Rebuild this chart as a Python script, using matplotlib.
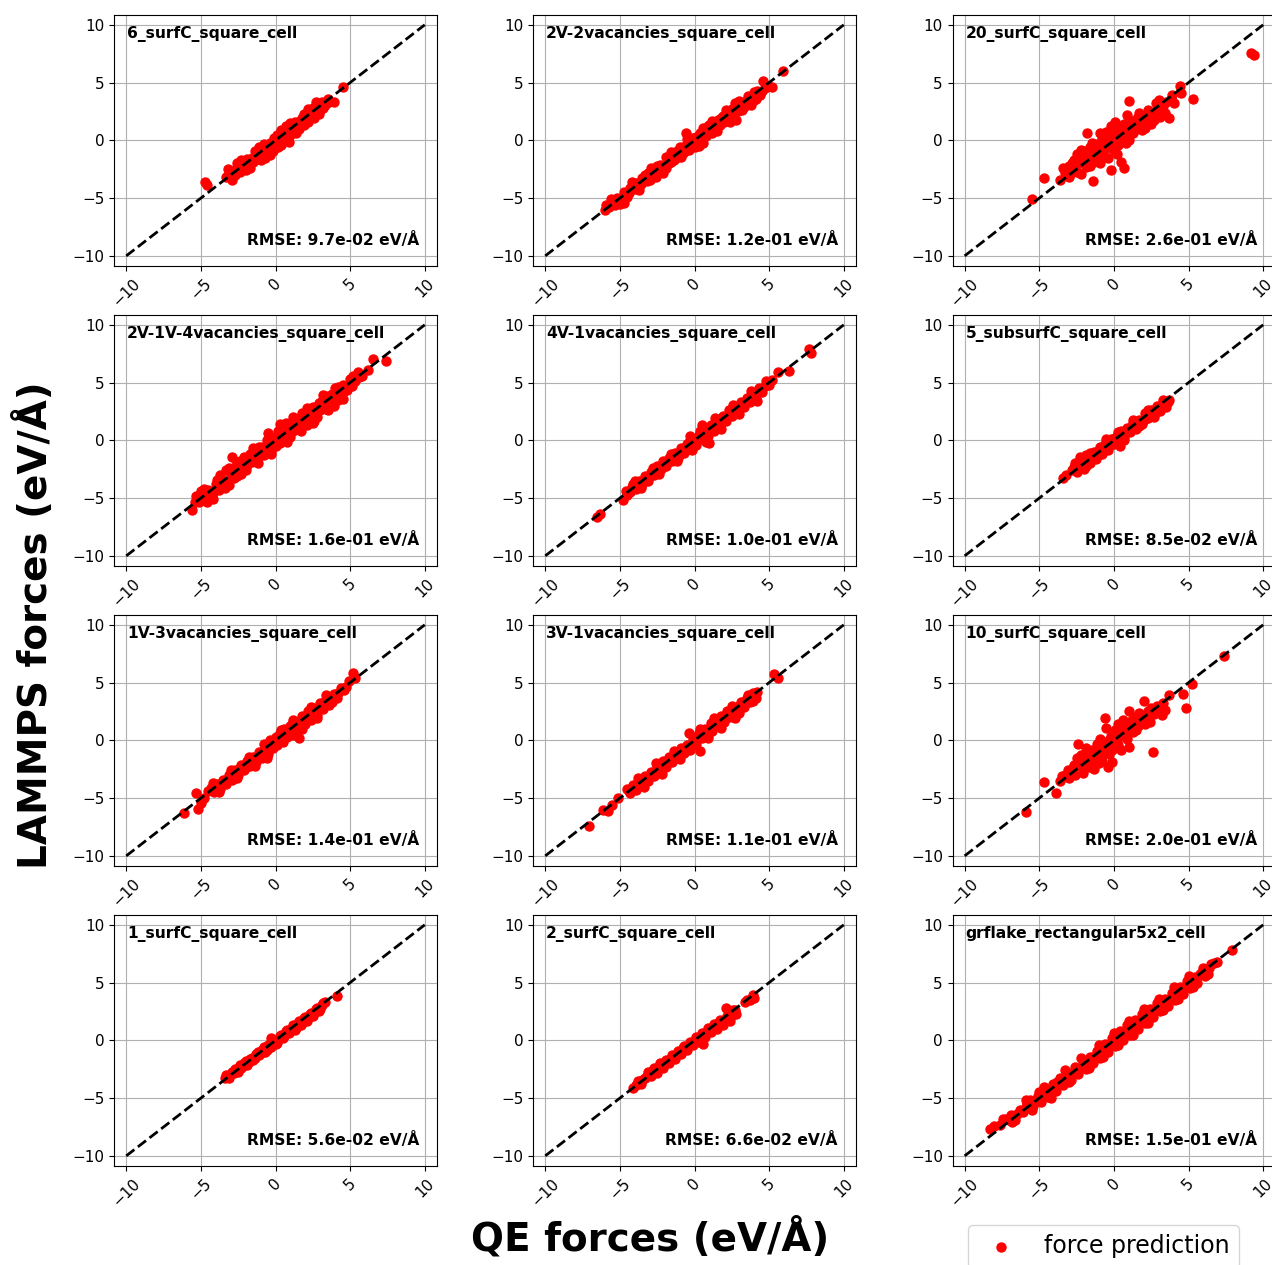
import matplotlib
matplotlib.use("Agg")
import matplotlib.pyplot as plt

# (QE force, LAMMPS force) pairs for each structure, in eV/A
surf6 = [(-4.7, -3.6), (-4.6, -3.9), (-3.3, -3.2), (-3.1, -2.8), (-3.0, -3.3), (-2.8, -2.6),
         (-2.7, -3.0), (-2.5, -2.3), (-2.4, -2.7), (-2.2, -1.9), (-2.1, -2.4), (-1.9, -1.6),
         (-1.8, -2.2), (-1.6, -1.5), (-1.5, -1.9), (-1.3, -1.1), (-1.2, -1.6), (-1.0, -0.8),
         (-0.9, -1.3), (-0.7, -0.5), (-0.6, -1.2), (-0.5, -0.7), (-0.4, -0.2), (-0.3, -0.9),
         (-0.1, 0.2), (0.0, -0.4), (0.2, 0.1), (0.3, -0.2), (0.5, 0.6), (0.6, 0.2), (0.8, 0.9),
         (0.9, 0.4), (1.1, 1.3), (1.2, 0.8), (1.4, 1.2), (1.5, 1.6), (1.7, 1.3), (1.8, 1.9),
         (2.0, 1.7), (2.1, 2.2), (2.3, 2.0), (2.4, 2.5), (2.6, 2.3), (2.7, 3.3), (2.8, 2.8),
         (3.0, 2.6), (3.3, 3.1), (3.6, 3.3), (3.9, 3.3), (4.5, 4.6),
         (-2.6, -2.0), (-2.0, -2.6), (-1.4, -0.9), (-1.0, -1.7), (-0.8, -0.3), (-0.4, -1.3),
         (-0.2, -0.9), (0.1, 0.5), (0.4, -0.4), (0.7, 1.2), (1.0, 0.5), (1.3, 1.6), (1.6, 1.0),
         (1.9, 2.3), (2.2, 1.6), (2.5, 2.8), (2.9, 2.3), (3.2, 2.8), (3.5, 3.6), (-3.2, -2.5),
         (-2.9, -3.4), (0.9, -0.1),
         (-2.3, -1.7), (-1.7, -2.4), (-1.1, -0.6), (-0.7, -1.5), (0.2, -0.6), (0.4, 0.9),
         (1.0, 1.5), (1.4, 0.6), (1.9, 1.3), (2.2, 2.7), (2.6, 1.9), (3.1, 3.3)]

vac_2v2 = [(-6.0, -6.0), (-5.7, -5.8), (-5.5, -5.4), (-5.2, -5.0), (-4.9, -5.1), (-4.7, -5.4),
           (-4.7, -4.5), (-4.4, -4.6), (-4.3, -4.1), (-4.0, -4.2), (-3.9, -3.7), (-3.6, -3.8),
           (-3.5, -3.3), (-3.2, -3.5), (-3.1, -2.8), (-2.8, -3.0), (-2.7, -2.5), (-2.4, -2.6),
           (-2.3, -2.1), (-2.1, -2.8), (-2.0, -2.2), (-1.8, -1.6), (-1.7, -2.0), (-1.5, -1.2),
           (-1.4, -1.7), (-1.2, -0.9), (-1.1, -1.4), (-0.9, -0.7), (-0.8, -1.1), (-0.6, 0.6),
           (-0.6, -0.4), (-0.4, -0.8), (-0.3, 0.0), (-0.1, -0.4), (0.1, 0.3), (0.2, -0.3),
           (0.4, 0.6), (0.5, 0.0), (0.7, 0.9), (0.8, 0.4), (1.0, 1.3), (1.1, 0.7), (1.3, 1.5),
           (1.4, 1.0), (1.6, 1.8), (1.7, 1.3), (1.9, 2.1), (2.0, 1.6), (2.2, 2.4), (2.3, 1.9),
           (2.5, 2.7), (2.6, 2.2), (2.8, 1.8), (2.8, 3.0), (2.9, 2.5), (3.1, 3.2), (3.3, 2.9),
           (3.5, 3.5), (3.7, 3.2), (3.9, 3.9), (4.1, 3.6), (4.3, 4.1), (4.4, 3.9), (4.6, 5.1),
           (4.7, 4.5), (5.2, 4.6), (5.9, 6.0),
           (-5.9, -5.6), (-5.3, -5.6), (-4.5, -4.9), (-4.1, -3.8), (-3.8, -4.1), (-3.3, -3.0),
           (-3.0, -3.4), (-2.5, -2.2), (-2.2, -2.5), (-1.9, -1.4), (-1.6, -1.9), (-1.3, -1.5),
           (-1.0, -0.6), (-0.7, -1.0), (-0.2, 0.2), (0.0, -0.6), (0.3, 0.1), (0.6, -0.2),
           (0.9, 1.2), (1.2, 0.6), (1.5, 1.4), (1.8, 1.9), (2.1, 1.8), (2.4, 2.4), (2.7, 3.2),
           (3.0, 2.8), (3.4, 3.1), (3.6, 3.8), (4.0, 3.5), (4.2, 4.3), (4.5, 4.3), (4.9, 4.7),
           (-5.6, -5.1), (-5.0, -5.5), (-4.2, -3.6), (-3.7, -4.3), (-2.9, -2.4), (-2.6, -3.2),
           (-1.9, -2.4), (-1.6, -1.0), (-0.9, -1.4), (-0.5, 0.1), (0.3, -0.5), (0.6, 1.1),
           (1.2, 1.7), (1.5, 0.8), (2.1, 2.6), (2.4, 1.6), (3.0, 3.4), (3.2, 2.6), (3.8, 3.1),
           (4.0, 4.2)]

surf20 = [(-5.5, -5.1), (-4.7, -3.3), (-3.6, -3.4), (-3.4, -2.4), (-3.2, -3.0), (-3.0, -2.2),
          (-2.9, -2.8), (-2.7, -1.7), (-2.6, -2.5), (-2.5, -1.2), (-2.4, -2.0), (-2.2, -2.9),
          (-2.1, -1.4), (-2.0, -0.9), (-1.9, -2.3), (-1.8, 0.6), (-1.7, -1.6), (-1.6, -0.6),
          (-1.5, -1.1), (-1.4, -3.5), (-1.3, -1.9), (-1.2, -0.3), (-1.1, -1.3), (-1.0, -0.8),
          (-0.9, -2.0), (-0.8, 0.2), (-0.7, -1.0), (-0.6, -0.4), (-0.5, 0.7), (-0.4, -1.5),
          (-0.3, -0.2), (-0.2, -2.6), (-0.2, 1.2), (-0.1, 0.3), (0.0, -0.8), (0.1, 1.6),
          (0.2, 0.5), (0.3, -0.4), (0.4, 1.0), (0.5, -1.9), (0.6, 0.2), (0.7, -2.4), (0.7, 1.4),
          (0.8, 0.7), (0.9, 2.2), (1.0, 3.4), (1.0, 0.0), (1.1, 1.2), (1.3, 0.6), (1.4, 1.8),
          (1.5, 1.0), (1.7, 2.4), (1.8, 1.3), (1.9, 0.9), (2.0, 2.0), (2.2, 1.6), (2.3, 2.6),
          (2.5, 1.4), (2.6, 2.2), (2.8, 3.2), (2.9, 2.6), (3.1, 2.0), (3.3, 3.0), (3.5, 3.3),
          (3.7, 1.9), (3.8, 3.6), (4.0, 3.2), (4.4, 4.7), (4.5, 4.1), (5.3, 3.6), (9.2, 7.6),
          (9.4, 7.4),
          (-3.3, -2.8), (-3.0, -3.2), (-2.8, -2.0), (-2.5, -2.7), (-2.3, -1.6), (-2.2, -0.8),
          (-1.9, -1.3), (-1.6, -2.2), (-1.5, -0.2), (-1.3, -1.5), (-1.0, -1.6), (-0.9, 0.6),
          (-0.7, -0.3), (-0.6, -1.4), (-0.4, 0.3), (-0.2, -0.7), (0.0, 0.8), (0.2, -1.2),
          (0.3, 1.3), (0.5, 0.5), (0.8, -0.2), (1.2, 1.6), (1.6, 2.0), (2.1, 1.1), (2.4, 2.3),
          (2.7, 1.8), (3.0, 3.5), (3.4, 2.4), (3.9, 3.9)]

vac_2v1v4 = [(-5.6, -6.0), (-5.3, -4.8), (-5.1, -5.3), (-4.9, -4.6), (-4.7, -5.0), (-4.5, -4.3),
             (-4.2, -5.1), (-4.2, -4.6), (-4.0, -3.8), (-3.8, -4.3), (-3.6, -3.4), (-3.5, -3.9),
             (-3.3, -2.6), (-3.2, -3.6), (-3.0, -3.0), (-2.9, -1.4), (-2.8, -3.3), (-2.7, -2.3),
             (-2.5, -2.8), (-2.4, -1.8), (-2.2, -2.4), (-2.1, -1.4), (-1.9, -2.1), (-1.8, -1.5),
             (-1.6, -1.9), (-1.5, -1.1), (-1.3, -1.6), (-1.2, -0.8), (-1.0, -1.3), (-0.9, -0.6),
             (-0.7, -1.0), (-0.5, 0.6), (-0.5, -0.3), (-0.3, -0.9), (-0.2, 0.1), (0.0, -0.5),
             (0.1, 0.4), (0.3, 1.4), (0.3, -0.2), (0.5, 0.8), (0.6, 0.2), (0.8, 1.2), (0.9, 0.5),
             (1.1, 1.6), (1.2, 0.8), (1.4, 1.3), (1.6, 1.9), (1.7, 1.2), (1.9, 2.2), (2.0, 1.6),
             (2.2, 2.6), (2.3, 1.9), (2.5, 1.5), (2.5, 2.9), (2.7, 2.3), (2.9, 3.2), (3.0, 2.6),
             (3.2, 3.5), (3.3, 2.9), (3.5, 3.8), (3.6, 3.2), (3.8, 4.0), (3.9, 3.0), (4.1, 4.3),
             (4.3, 3.8), (4.5, 4.8), (4.8, 4.4), (5.0, 5.3), (5.3, 5.1), (5.5, 5.9), (5.8, 5.6),
             (6.2, 6.1), (6.5, 7.0), (7.4, 6.9),
             (-5.4, -5.3), (-4.8, -4.2), (-4.4, -4.9), (-3.9, -3.4), (-3.4, -4.1), (-3.1, -2.4),
             (-2.6, -3.1), (-2.3, -2.0), (-2.0, -2.6), (-1.7, -1.2), (-1.4, -1.8), (-1.1, -0.6),
             (-0.8, -1.3), (-0.4, 0.3), (-0.1, -0.4), (0.2, 0.8), (0.5, 0.1), (0.7, 1.5),
             (1.0, 0.3), (1.3, 1.8), (1.5, 1.0), (1.8, 2.4), (2.1, 1.3), (2.4, 2.5), (2.8, 2.0),
             (3.1, 3.4), (3.4, 2.7), (3.7, 3.5), (4.0, 4.5), (4.2, 3.5), (4.6, 4.3), (5.1, 4.7),
             (5.6, 5.5),
             (-5.0, -4.4), (-4.6, -5.3), (-3.7, -3.0), (-3.1, -3.9), (-2.6, -1.9), (-2.3, -2.9),
             (-1.5, -0.7), (-1.2, -2.0), (-0.6, 0.0), (-0.3, -1.2), (0.4, 1.1), (0.8, -0.1),
             (1.2, 2.0), (1.7, 0.8), (2.1, 2.8), (2.6, 1.7), (3.2, 3.9), (3.5, 2.6), (4.2, 4.6),
             (4.5, 3.6), (5.2, 5.6)]

vac_4v1 = [(-6.5, -6.6), (-6.3, -6.4), (-4.8, -5.2), (-4.6, -4.4), (-4.3, -4.5), (-4.1, -3.8),
           (-3.9, -4.2), (-3.7, -3.5), (-3.5, -3.8), (-3.3, -3.1), (-3.1, -3.5), (-2.9, -2.7),
           (-2.7, -3.0), (-2.5, -2.2), (-2.3, -2.6), (-2.1, -1.8), (-1.9, -2.2), (-1.7, -1.5),
           (-1.5, -1.8), (-1.3, -1.1), (-1.1, -1.5), (-0.9, -0.7), (-0.7, -1.1), (-0.5, -0.3),
           (-0.3, 0.4), (-0.3, -0.7), (-0.1, 0.0), (0.1, -0.4), (0.3, 0.5), (0.5, 1.3), (0.5, 0.1),
           (0.7, 0.9), (0.9, 0.4), (1.0, -0.2), (1.1, 1.3), (1.3, 0.8), (1.5, 1.7), (1.7, 1.2),
           (1.9, 2.1), (2.1, 1.7), (2.3, 2.6), (2.5, 2.1), (2.7, 2.9), (2.9, 2.5), (3.1, 3.3),
           (3.3, 2.9), (3.5, 3.7), (3.7, 3.3), (3.9, 4.1), (4.1, 3.7), (4.3, 4.5), (4.5, 4.2),
           (4.8, 5.1), (5.0, 4.8), (5.6, 5.9), (6.3, 6.0), (7.7, 7.9), (7.8, 7.6),
           (-4.5, -4.7), (-4.2, -4.0), (-3.8, -3.8), (-3.4, -3.5), (-3.0, -3.1), (-2.6, -2.6),
           (-2.2, -2.4), (-1.8, -1.9), (-1.4, -1.4), (-1.0, -1.2), (-0.6, -0.8), (-0.4, -0.1),
           (0.0, -0.3), (0.2, 0.2), (0.6, 0.6), (0.8, -0.1), (1.2, 1.0), (1.6, 1.4), (2.0, 1.9),
           (2.4, 2.4), (2.8, 2.7), (3.2, 3.1), (3.6, 3.5), (4.0, 3.9), (4.4, 4.3), (4.7, 4.7),
           (5.2, 5.2),
           (-4.0, -3.5), (-3.6, -4.1), (-2.8, -2.4), (-2.4, -2.9), (-1.6, -1.2), (-1.2, -1.8),
           (-0.2, -0.8), (0.4, 0.8), (1.4, 1.9), (1.8, 1.0), (2.6, 3.1), (3.0, 2.3), (3.8, 4.3),
           (4.2, 3.4)]

subsurf5 = [(-3.4, -3.3), (-2.7, -2.3), (-2.5, -2.7), (-2.3, -1.4), (-2.2, -2.0), (-2.0, -2.5),
            (-1.8, -1.6), (-1.6, -2.0), (-1.4, -1.2), (-1.2, -1.6), (-1.0, -0.8), (-0.8, -1.2),
            (-0.6, -0.3), (-0.4, -0.8), (-0.2, 0.1), (0.0, -0.3), (0.2, 0.4), (0.4, -0.5),
            (0.5, 0.8), (0.7, 0.3), (0.9, 1.1), (1.1, 0.7), (1.3, 1.5), (1.5, 1.0), (1.7, 1.8),
            (1.9, 1.4), (2.1, 2.4), (2.3, 1.9), (2.5, 2.6), (2.7, 2.2), (2.9, 3.0), (3.1, 2.5),
            (3.3, 3.3), (3.5, 2.9), (3.7, 3.5),
            (-3.2, -3.0), (-2.6, -2.0), (-2.4, -2.4), (-2.1, -2.3), (-1.9, -1.3), (-1.7, -1.8),
            (-1.5, -1.5), (-1.3, -1.0), (-1.1, -1.3), (-0.9, -0.6), (-0.7, -0.9), (-0.5, -0.5),
            (-0.3, -0.1), (-0.1, -0.3), (0.1, 0.2), (0.3, 0.0), (0.6, 0.5), (0.8, 0.8),
            (1.0, 0.9), (1.2, 1.2), (1.4, 1.3), (1.6, 1.5), (1.8, 1.7), (2.0, 1.8), (2.2, 2.1),
            (2.4, 2.2), (2.6, 2.4), (2.8, 2.7), (3.0, 2.7), (3.2, 3.0), (3.4, 3.1), (3.6, 3.3),
            (-2.8, -2.6), (-1.9, -2.2), (-1.6, -1.1), (-0.9, -1.2), (-0.5, 0.1), (0.3, 0.7),
            (0.7, 0.0), (1.3, 1.8), (1.7, 1.2), (2.3, 2.6), (2.7, 2.0), (3.3, 3.5)]

vac_1v3 = [(-6.1, -6.3), (-5.3, -4.6), (-5.2, -5.9), (-5.0, -5.4), (-4.8, -5.0), (-4.3, -4.1),
           (-4.1, -4.5), (-3.9, -3.8), (-3.7, -4.2), (-3.5, -3.4), (-3.3, -3.8), (-3.1, -3.0),
           (-2.9, -3.4), (-2.7, -2.6), (-2.5, -3.0), (-2.3, -2.1), (-2.1, -2.6), (-1.9, -1.8),
           (-1.7, -2.2), (-1.5, -1.4), (-1.3, -1.9), (-1.1, -1.0), (-0.9, -1.5), (-0.7, -0.6),
           (-0.5, -1.2), (-0.4, 0.0), (-0.2, -0.7), (0.0, 0.3), (0.1, -0.4), (0.3, 0.6),
           (0.5, -0.1), (0.6, 1.0), (0.8, 0.3), (1.0, 1.2), (1.2, 0.5), (1.4, 1.6), (1.6, 0.2),
           (1.6, 1.0), (1.8, 2.1), (2.0, 1.4), (2.2, 2.5), (2.4, 1.8), (2.6, 2.8), (2.8, 2.2),
           (3.0, 3.2), (3.2, 2.7), (3.4, 3.6), (3.6, 3.1), (3.9, 4.0), (4.1, 3.7), (4.4, 4.5),
           (4.7, 4.6), (4.9, 5.1), (5.2, 5.8), (5.3, 5.4),
           (-4.5, -4.4), (-4.0, -4.2), (-3.6, -3.7), (-3.2, -3.4), (-2.8, -3.0), (-2.4, -2.4),
           (-2.0, -2.3), (-1.6, -1.8), (-1.2, -1.5), (-0.8, -1.2), (-0.6, -0.9), (-0.3, -0.3),
           (0.2, 0.1), (0.4, 0.9), (0.7, 0.6), (0.9, 0.8), (1.1, 1.4), (1.3, 0.9), (1.5, 1.3),
           (1.7, 1.6), (1.9, 1.7), (2.1, 2.0), (2.3, 2.2), (2.5, 2.5), (2.7, 2.5), (2.9, 2.8),
           (3.1, 2.9), (3.3, 3.2), (3.5, 3.3), (3.7, 3.7), (4.2, 4.1), (4.6, 4.4),
           (-4.2, -3.7), (-3.8, -4.5), (-3.0, -2.6), (-2.6, -3.3), (-1.8, -1.4), (-1.4, -2.2),
           (-0.8, -0.3), (-0.6, -1.5), (0.4, 0.2), (1.2, 1.8), (1.8, 1.0), (2.4, 2.9),
           (2.8, 1.9), (3.4, 3.9), (3.8, 3.3)]

vac_3v1 = [(-7.1, -7.4), (-6.1, -6.0), (-5.8, -6.1), (-5.5, -5.6), (-5.1, -5.0), (-4.5, -4.2),
           (-4.3, -4.6), (-4.1, -3.9), (-3.9, -4.3), (-3.7, -3.5), (-3.5, -3.9), (-3.3, -3.1),
           (-3.1, -3.5), (-2.9, -2.7), (-2.7, -3.1), (-2.5, -2.3), (-2.3, -2.7), (-2.1, -1.8),
           (-1.9, -2.3), (-1.7, -1.4), (-1.5, -1.9), (-1.3, -1.1), (-1.1, -1.5), (-0.9, -0.7),
           (-0.7, -1.1), (-0.5, -0.4), (-0.4, 0.6), (-0.3, -0.8), (-0.1, 0.1), (0.1, -0.3),
           (0.3, 0.6), (0.4, -0.9), (0.5, 0.2), (0.7, 1.0), (0.9, 0.5), (1.1, 1.5), (1.2, 0.8),
           (1.4, 1.8), (1.6, 1.3), (1.8, 2.1), (2.0, 1.6), (2.2, 2.5), (2.4, 2.0), (2.6, 2.9),
           (2.7, 1.9), (2.9, 2.6), (3.1, 3.3), (3.3, 2.9), (3.5, 3.7), (3.7, 3.3), (3.9, 4.1),
           (4.1, 3.7), (4.2, 4.2), (5.3, 5.7), (5.6, 5.4),
           (-4.4, -4.4), (-4.0, -4.1), (-3.6, -3.7), (-3.2, -3.3), (-2.8, -2.9), (-2.4, -2.5),
           (-2.0, -2.1), (-1.8, -1.7), (-1.6, -1.6), (-1.2, -1.3), (-1.0, -1.0), (-0.8, -0.9),
           (-0.6, -0.7), (-0.2, -0.3), (0.0, 0.3), (0.2, 0.1), (0.6, 0.6), (0.8, 0.8), (1.0, 1.0),
           (1.3, 1.3), (1.5, 1.5), (1.7, 1.7), (1.9, 1.8), (2.1, 2.1), (2.3, 2.2), (2.5, 2.5),
           (2.8, 2.7), (3.0, 3.0), (3.2, 3.1), (3.4, 3.4), (3.6, 3.5), (3.8, 3.8), (4.0, 3.9),
           (-3.8, -3.3), (-3.4, -4.0), (-2.6, -2.0), (-2.2, -2.9), (-1.4, -0.9), (-1.0, -1.6),
           (0.4, 1.0), (0.9, 0.2), (1.3, 1.9), (1.8, 1.1), (2.5, 3.0), (3.0, 2.4), (3.6, 3.9),
           (3.9, 3.4)]

surf10 = [(-5.9, -6.2), (-4.7, -3.6), (-3.9, -4.6), (-3.6, -3.5), (-3.3, -3.0), (-3.0, -3.3),
          (-2.8, -2.5), (-2.6, -3.0), (-2.5, -1.5), (-2.4, -0.3), (-2.3, -2.2), (-2.1, -2.8),
          (-2.0, -1.6), (-1.8, -1.1), (-1.7, -2.3), (-1.5, -0.8), (-1.4, -1.6), (-1.3, -2.5),
          (-1.1, -0.3), (-1.0, -1.2), (-0.9, 0.1), (-0.8, -1.8), (-0.7, -0.7), (-0.6, 1.9),
          (-0.5, 1.1), (-0.5, -0.2), (-0.4, -2.3), (-0.3, -1.2), (-0.2, 0.4), (-0.1, -1.9),
          (0.0, -0.5), (0.1, 0.9), (0.2, -0.1), (0.3, 1.4), (0.4, 0.4), (0.5, -0.8), (0.6, 1.8),
          (0.7, 0.8), (0.9, 0.1), (1.0, -0.6), (1.0, 2.5), (1.1, 1.3), (1.3, 0.7), (1.4, 2.0),
          (1.6, 1.2), (1.7, 2.4), (1.9, 1.7), (2.0, 3.4), (2.2, 2.1), (2.4, 1.6), (2.5, 2.8),
          (2.6, -1.0), (2.7, 2.3), (2.9, 3.0), (3.0, 2.5), (3.3, 3.2), (3.4, 2.6), (3.7, 3.9),
          (4.6, 4.0), (4.8, 2.8), (5.2, 4.9), (7.4, 7.3),
          (-3.5, -3.1), (-3.1, -2.6), (-2.9, -3.0), (-2.7, -2.1), (-2.2, -1.3), (-2.0, -2.4),
          (-1.9, -0.7), (-1.6, -1.9), (-1.2, -0.9), (-1.0, -2.0), (-0.8, -0.3), (-0.6, -1.1),
          (-0.3, 0.0), (-0.1, -0.8), (0.1, 0.3), (0.3, -0.4), (0.5, 1.0), (0.8, 1.4), (0.9, 0.5),
          (1.2, 1.8), (1.5, 0.9), (1.8, 2.0), (2.1, 1.4), (2.3, 2.5), (2.8, 2.7), (3.1, 2.9),
          (3.2, 2.2)]

surf1 = [(-3.4, -3.3), (-3.2, -3.1), (-3.0, -2.9), (-2.8, -2.8), (-2.6, -2.5), (-2.4, -2.1),
         (-2.3, -2.4), (-2.1, -2.0), (-1.9, -2.1), (-1.7, -1.6), (-1.5, -1.7), (-1.3, -1.2),
         (-1.1, -1.3), (-0.9, -0.8), (-0.7, -1.0), (-0.5, -0.4), (-0.3, 0.2), (-0.3, -0.6),
         (-0.1, -0.1), (0.1, -0.2), (0.3, 0.4), (0.5, 0.2), (0.7, 0.8), (0.9, 0.6), (1.1, 1.1),
         (1.3, 0.9), (1.5, 1.5), (1.7, 1.3), (1.9, 1.9), (2.1, 1.7), (2.3, 2.3), (2.5, 2.1),
         (2.7, 2.7), (2.9, 2.5), (3.1, 3.1), (3.3, 3.3), (4.1, 3.8),
         (-3.3, -3.0), (-3.1, -3.3), (-2.9, -2.7), (-2.7, -2.5), (-2.5, -2.7), (-2.2, -2.2),
         (-2.0, -1.8), (-1.8, -1.9), (-1.6, -1.5), (-1.4, -1.5), (-1.2, -1.0), (-1.0, -1.1),
         (-0.8, -0.6), (-0.6, -0.8), (-0.4, -0.3), (-0.2, 0.0), (0.0, -0.3), (0.2, 0.1),
         (0.4, 0.5), (0.6, 0.4), (0.8, 0.9), (1.0, 0.8), (1.2, 1.3), (1.4, 1.1), (1.6, 1.7),
         (1.8, 1.5), (2.0, 2.0), (2.2, 1.9), (2.4, 2.4), (2.6, 2.4), (2.8, 2.8), (3.0, 2.7),
         (3.2, 3.2)]

surf2 = [(-4.1, -4.1), (-3.8, -3.5), (-3.6, -3.8), (-3.3, -3.3), (-3.1, -2.7), (-2.9, -3.1),
         (-2.7, -2.4), (-2.5, -2.8), (-2.3, -2.0), (-2.1, -2.4), (-1.9, -1.7), (-1.7, -2.0),
         (-1.5, -1.3), (-1.3, -1.6), (-1.1, -0.9), (-0.9, -1.2), (-0.7, -0.5), (-0.5, -0.8),
         (-0.3, -0.1), (-0.1, -0.4), (0.1, 0.3), (0.3, -0.1), (0.5, 0.6), (0.6, -0.3),
         (0.7, 0.3), (0.9, 1.1), (1.1, 0.7), (1.3, 1.4), (1.5, 1.0), (1.7, 1.8), (1.9, 1.3),
         (2.1, 2.8), (2.2, 2.1), (2.4, 1.7), (2.6, 2.6), (2.8, 2.3), (3.4, 3.3), (3.7, 3.5),
         (3.9, 3.9), (4.0, 3.7),
         (-3.9, -3.9), (-3.5, -3.4), (-3.2, -3.1), (-3.0, -2.9), (-2.8, -2.6), (-2.6, -2.6),
         (-2.4, -2.2), (-2.2, -2.2), (-2.0, -1.9), (-1.8, -1.8), (-1.6, -1.5), (-1.4, -1.4),
         (-1.2, -1.2), (-1.0, -1.0), (-0.8, -0.7), (-0.6, -0.6), (-0.4, -0.4), (-0.2, -0.2),
         (0.0, 0.0), (0.2, 0.1), (0.4, 0.3), (0.8, 0.7), (1.0, 0.9), (1.2, 1.1), (1.4, 1.2),
         (1.6, 1.5), (1.8, 1.6), (2.0, 1.8), (2.3, 2.4), (2.5, 2.2), (2.7, 2.6), (3.5, 3.5),
         (3.8, 3.6)]

grflake = [(-8.3, -7.7), (-8.0, -7.4), (-7.2, -6.8), (-6.9, -6.5), (-6.6, -6.9), (-6.3, -6.0),
           (-5.9, -5.8), (-5.6, -5.2), (-5.4, -5.7), (-5.1, -4.8), (-4.9, -5.3), (-4.6, -4.3),
           (-4.4, -4.9), (-4.1, -3.8), (-3.9, -4.4), (-3.6, -3.3), (-3.4, -3.9), (-3.1, -2.8),
           (-2.9, -3.4), (-2.6, -2.3), (-2.4, -2.9), (-2.1, -1.8), (-1.9, -2.5), (-1.6, -1.4),
           (-1.4, -2.0), (-1.1, -0.9), (-0.9, -1.5), (-0.6, -0.3), (-0.4, -1.0), (-0.1, 0.2),
           (0.1, -0.5), (0.4, 0.8), (0.6, 0.0), (0.9, 1.3), (1.1, 0.5), (1.4, 1.8), (1.6, 1.0),
           (1.9, 2.3), (2.1, 1.5), (2.4, 2.7), (2.6, 2.0), (2.9, 3.2), (3.1, 2.5), (3.4, 3.6),
           (3.6, 3.0), (3.9, 4.1), (4.1, 3.5), (4.4, 4.6), (4.6, 4.0), (4.9, 5.1), (5.1, 4.5),
           (5.4, 5.5), (5.6, 5.0), (5.9, 5.9), (6.1, 5.6), (6.4, 6.3), (6.7, 6.7), (7.9, 7.8),
           (-7.6, -7.3), (-7.0, -6.9), (-6.5, -6.4), (-6.1, -6.2), (-5.8, -5.4), (-5.3, -5.2),
           (-5.0, -4.5), (-4.8, -4.9), (-4.3, -4.4), (-4.0, -4.2), (-3.8, -3.6), (-3.5, -3.6),
           (-3.2, -3.2), (-3.0, -3.0), (-2.7, -2.7), (-2.3, -2.4), (-2.0, -2.0), (-1.8, -1.7),
           (-1.5, -1.6), (-1.2, -1.3), (-0.8, -0.8), (-0.5, -0.6), (-0.2, -0.2), (0.2, 0.2),
           (0.5, 0.4), (0.8, 0.8), (1.2, 1.2), (1.5, 1.4), (1.8, 1.8), (2.2, 2.1), (2.5, 2.4),
           (2.8, 2.8), (3.2, 3.1), (3.5, 3.3), (3.8, 3.7), (4.2, 4.1), (4.5, 4.3), (4.8, 4.7),
           (5.2, 5.0), (5.5, 5.3), (5.8, 5.7), (6.2, 6.0), (6.5, 6.6), (6.9, 6.8),
           (-7.4, -6.8), (-6.8, -7.1), (-5.9, -5.2), (-5.5, -6.0), (-4.7, -4.0), (-4.2, -5.0),
           (-3.3, -2.6), (-3.0, -3.6), (-2.2, -1.5), (-1.7, -2.4), (-1.0, -0.4), (-0.7, -1.4),
           (0.0, 0.6), (0.3, -0.4), (1.0, 1.7), (1.3, 0.5), (2.0, 2.7), (2.3, 1.5), (3.0, 3.6),
           (3.3, 2.6), (4.0, 4.6), (4.3, 3.6), (5.0, 5.6), (5.3, 4.6), (6.0, 6.3), (6.3, 5.7)]

names = ["6_surfC_square_cell", "2V-2vacancies_square_cell", "20_surfC_square_cell",
         "2V-1V-4vacancies_square_cell", "4V-1vacancies_square_cell", "5_subsurfC_square_cell",
         "1V-3vacancies_square_cell", "3V-1vacancies_square_cell", "10_surfC_square_cell",
         "1_surfC_square_cell", "2_surfC_square_cell", "grflake_rectangular5x2_cell"]
rmse = [9.7e-02, 1.2e-01, 2.6e-01, 1.6e-01, 1.0e-01, 8.5e-02,
        1.4e-01, 1.1e-01, 2.0e-01, 5.6e-02, 6.6e-02, 1.5e-01]
forces = [surf6, vac_2v2, surf20, vac_2v1v4, vac_4v1, subsurf5,
          vac_1v3, vac_3v1, surf10, surf1, surf2, grflake]

W, H = 1272, 1265
col_left = [114.3, 533.3, 952.7]
row_top = [15, 315, 615, 915]
ax_w, ax_h = 322.4, 250.7


def parity_plot(ax, pts, name, err):
    qe = [p[0] for p in pts]
    lmp = [p[1] for p in pts]
    sc = ax.scatter(qe, lmp, s=42, color="red", label="force prediction", zorder=2)
    ax.plot([-10, 10], [-10, 10], "k--", lw=2, zorder=3)
    ax.set_xlim(-10.8, 10.8)
    ax.set_ylim(-10.85, 10.85)
    ax.set_xticks([-10, -5, 0, 5, 10])
    ax.set_yticks([-10, -5, 0, 5, 10])
    ax.tick_params(labelsize=11)
    ax.tick_params(axis="x", labelrotation=45)
    ax.grid(True, zorder=0)
    ax.set_axisbelow(True)
    ax.text(0.04, 0.955, name, transform=ax.transAxes, ha="left", va="top",
            fontsize=11.2, fontweight="bold")
    ax.text(0.945, 0.083, f"RMSE: {err:.1e} eV/Å", transform=ax.transAxes,
            ha="right", va="baseline", fontsize=11.2, fontweight="bold")
    return sc


fig = plt.figure(figsize=(W / 100, H / 100), dpi=100)

handle = None
for i, (pts, name, err) in enumerate(zip(forces, names, rmse)):
    r, c = divmod(i, 3)
    rect = [col_left[c] / W, 1 - (row_top[r] + ax_h) / H, ax_w / W, ax_h / H]
    ax = fig.add_axes(rect)
    handle = parity_plot(ax, pts, name, err)

fig.text(650 / W, 1 - 1238 / H, "QE forces (eV/Å)", ha="center", va="center",
         fontsize=28, fontweight="bold")
fig.text(35 / W, 1 - 625 / H, "LAMMPS forces (eV/Å)", ha="center", va="center",
         rotation=90, fontsize=28, fontweight="bold")

fig.legend([handle], ["force prediction"], loc="upper left",
           bbox_to_anchor=(968 / W, 1 - 1225 / H), borderaxespad=0, fontsize=17)

fig.savefig("out.png", dpi=100)
